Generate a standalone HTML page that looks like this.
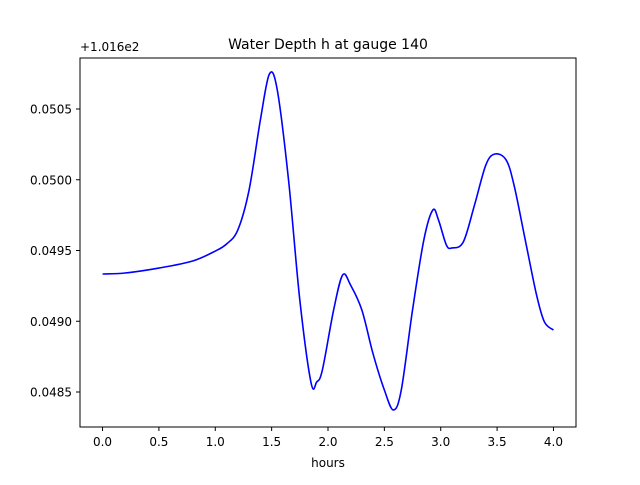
<!DOCTYPE html>
<html><head><meta charset="utf-8"><style>
body{margin:0;background:#fff;}
svg{font-family:"DejaVu Sans","Liberation Sans",sans-serif;}
</style></head><body>
<svg id="chart" width="640" height="480" xmlns="http://www.w3.org/2000/svg">
<rect width="640" height="480" fill="#fff"/>
<text x="328" y="49" font-size="14" text-anchor="middle">Water Depth h at gauge 140</text>
<text x="80" y="51" font-size="12">+1.016e2</text>
<text x="328" y="467" font-size="12" text-anchor="middle">hours</text>
<g id="ticks"></g>
<path id="line" fill="none" stroke="#0000ff" stroke-width="1.6"/>
<rect x="80" y="58" width="496" height="369" fill="none" stroke="#000" stroke-width="1"/>
</svg>
<script>
const hours=[0,0.2,0.5,0.8,1.0,1.1,1.2,1.3,1.4,1.48,1.55,1.65,1.75,1.85,1.9,1.95,2.05,2.13,2.2,2.3,2.4,2.5,2.58,2.65,2.75,2.85,2.93,2.98,3.05,3.1,3.2,3.3,3.4,3.48,3.58,3.65,3.75,3.85,3.92,4.0];
const depth=[0.049334,0.049341,0.049376,0.049426,0.049496,0.049546,0.049645,0.049928,0.050422,0.050747,0.050634,0.049998,0.049150,0.048564,0.048571,0.048655,0.049080,0.049327,0.049256,0.049080,0.048769,0.048514,0.048373,0.048514,0.049080,0.049574,0.049786,0.049716,0.049539,0.049518,0.049560,0.049822,0.050104,0.050182,0.050140,0.049963,0.049574,0.049186,0.048995,0.048938];
const xTicks=[0,0.5,1,1.5,2,2.5,3,3.5,4];
const xTickLabels=["0.0","0.5","1.0","1.5","2.0","2.5","3.0","3.5","4.0"];
const yTicks=[0.0485,0.049,0.0495,0.05,0.0505];
const yTickLabels=["0.0485","0.0490","0.0495","0.0500","0.0505"];
const X=v=>80+(v+0.2)/4.4*496;
const Y=v=>392-(v-0.0485)*141500;
const ns="http://www.w3.org/2000/svg";
const g=document.getElementById('ticks');
function mk(tag,attrs){const e=document.createElementNS(ns,tag);for(const k in attrs)e.setAttribute(k,attrs[k]);g.appendChild(e);return e;}
xTicks.forEach((t,i)=>{
  const l=mk('line',{x1:X(t),x2:X(t),y1:427,y2:431,stroke:'#000'});
  
  
  const tx=mk('text',{x:X(t),y:446,'font-size':12,'text-anchor':'middle'});
  tx.textContent=xTickLabels[i];
  
  
});
yTicks.forEach((t,i)=>{
  const l=mk('line',{x1:76,x2:80,y1:Y(t),y2:Y(t),stroke:'#000'});
  
  
  const tx=mk('text',{x:72,y:Y(t)+4.5,'font-size':12,'text-anchor':'end'});
  tx.textContent=yTickLabels[i];
  
  
});
const P=hours.map((h,i)=>[X(h),Y(depth[i])]);
let d='M'+P[0][0]+','+P[0][1];
for(let i=0;i<P.length-1;i++){
  const p0=P[Math.max(0,i-1)],p1=P[i],p2=P[i+1],p3=P[Math.min(P.length-1,i+2)];
  const c1=[p1[0]+(p2[0]-p0[0])/6,p1[1]+(p2[1]-p0[1])/6];
  const c2=[p2[0]-(p3[0]-p1[0])/6,p2[1]-(p3[1]-p1[1])/6];
  d+=` C${c1[0]},${c1[1]} ${c2[0]},${c2[1]} ${p2[0]},${p2[1]}`;
}
document.getElementById('line').setAttribute('d',d);
</script>
</body></html>
